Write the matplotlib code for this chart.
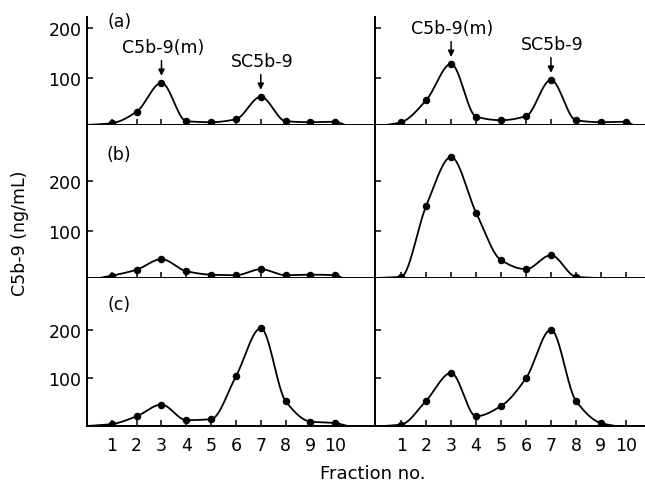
import numpy as np
import matplotlib.pyplot as plt

# C5b-9 (ng/mL) per fraction, three experiments (a, b, c), two columns each
fractions = list(range(1, 11))

a_left = [9, 32, 90, 13, 11, 17, 62, 13, 11, 12]
a_right = [11, 55, 128, 22, 15, 23, 96, 15, 11, 12]
b_left = [10, 22, 43, 19, 12, 11, 23, 11, 12, 11]
b_right = [8, 149, 247, 136, 41, 23, 51, 8]
c_left = [6, 22, 46, 14, 16, 104, 203, 53, 11, 8]
c_right = [5, 54, 111, 22, 43, 100, 200, 54, 8]

panel_labels = ["(a)", "(b)", "(c)"]
peak_names = ["C5b-9(m)", "SC5b-9"]
peak_fractions = [3, 7]
y_ticks = [100, 200]

FS = 12.5


def pchip(x, y, xs):
    # monotone cubic through the measured points, so the peaks don't overshoot
    x = np.asarray(x, float)
    y = np.asarray(y, float)
    h = np.diff(x)
    delta = np.diff(y) / h
    d = np.zeros_like(y)
    d[0], d[-1] = delta[0], delta[-1]
    for k in range(1, len(x) - 1):
        if delta[k - 1] * delta[k] > 0:
            w1 = 2 * h[k] + h[k - 1]
            w2 = h[k] + 2 * h[k - 1]
            d[k] = (w1 + w2) / (w1 / delta[k - 1] + w2 / delta[k])
    idx = np.clip(np.searchsorted(x, xs) - 1, 0, len(x) - 2)
    t = (xs - x[idx]) / h[idx]
    h00 = 2 * t**3 - 3 * t**2 + 1
    h10 = t**3 - 2 * t**2 + t
    h01 = -2 * t**3 + 3 * t**2
    h11 = t**3 - t**2
    return (h00 * y[idx] + h10 * h[idx] * d[idx]
            + h01 * y[idx + 1] + h11 * h[idx] * d[idx + 1])


def draw_profile(ax, values, ymin, lead, trail):
    xs = fractions[:len(values)]
    xe = [xs[0] - lead] + xs + [xs[-1] + trail]
    ye = [ymin] + list(values) + [ymin]
    grid = np.linspace(xe[0], xe[-1], 400)
    ax.plot(grid, pchip(xe, ye, grid), color="black", lw=1.3,
            solid_capstyle="round")
    ax.plot(xs, values, "o", color="black", ms=4.4)


fig = plt.figure(figsize=(6.45, 4.85), dpi=100)

W, H = 645, 485
rows = [(18, 126, (5.4, 222)), (126, 279, (5.4, 311)), (279, 427, (2, 306))]
cols = [(87, 375, (0, 11.6)), (375, 645, (-0.05, 10.77))]
data = [[a_left, a_right], [b_left, b_right], [c_left, c_right]]
tails = [[(1.0, 0.4), (0.6, 0.3)],
         [(0.5, 0.3), (1.0, 0.8)],
         [(1.0, 0.5), (0.7, 0.6)]]
label_drop = [3, 21, 19]  # points below the top of each row

for r, (top, bot, ylim) in enumerate(rows):
    for c, (x0, x1, xlim) in enumerate(cols):
        ax = fig.add_axes([x0 / W, 1 - bot / H, (x1 - x0) / W, (bot - top) / H])
        ax.set_xlim(*xlim)
        ax.set_ylim(*ylim)
        for side in ("top", "right"):
            ax.spines[side].set_visible(False)
        for side in ("left", "bottom"):
            ax.spines[side].set_linewidth(1.4)

        lead, trail = tails[r][c]
        draw_profile(ax, data[r][c], ylim[0], lead, trail)

        ax.set_xticks(fractions)
        ax.set_yticks(y_ticks)
        ax.tick_params(axis="both", direction="in", length=4, width=1.1,
                       labelsize=FS)
        ax.tick_params(axis="x", pad=7, labelbottom=(r == 2))
        ax.tick_params(axis="y", pad=4, labelleft=(c == 0))

        if c == 0:
            ax.annotate(panel_labels[r], xy=(1.3, 1),
                        xycoords=("data", "axes fraction"),
                        xytext=(0, -label_drop[r]), textcoords="offset points",
                        ha="center", va="center", fontsize=FS,
                        annotation_clip=False)

        if r == 0:
            vals = data[r][c]
            for name, fr in zip(peak_names, peak_fractions):
                v = vals[fr - 1]
                ax.annotate("", xy=(fr, v), xytext=(0, 16),
                            textcoords="offset points",
                            arrowprops=dict(arrowstyle="-|>", color="black",
                                            lw=1.1, shrinkA=0, shrinkB=5,
                                            mutation_scale=9))
                ax.annotate(name, xy=(fr, v), xytext=(1, 26),
                            textcoords="offset points", ha="center",
                            va="center", fontsize=FS, annotation_clip=False)

fig.text(20 / W, 1 - 233 / H, "C5b-9 (ng/mL)", rotation=90,
         ha="center", va="center", fontsize=FS)
fig.text(373 / W, 1 - 474 / H, "Fraction no.", ha="center", va="center",
         fontsize=FS + 0.5)

fig.savefig("out.png", dpi=100)
